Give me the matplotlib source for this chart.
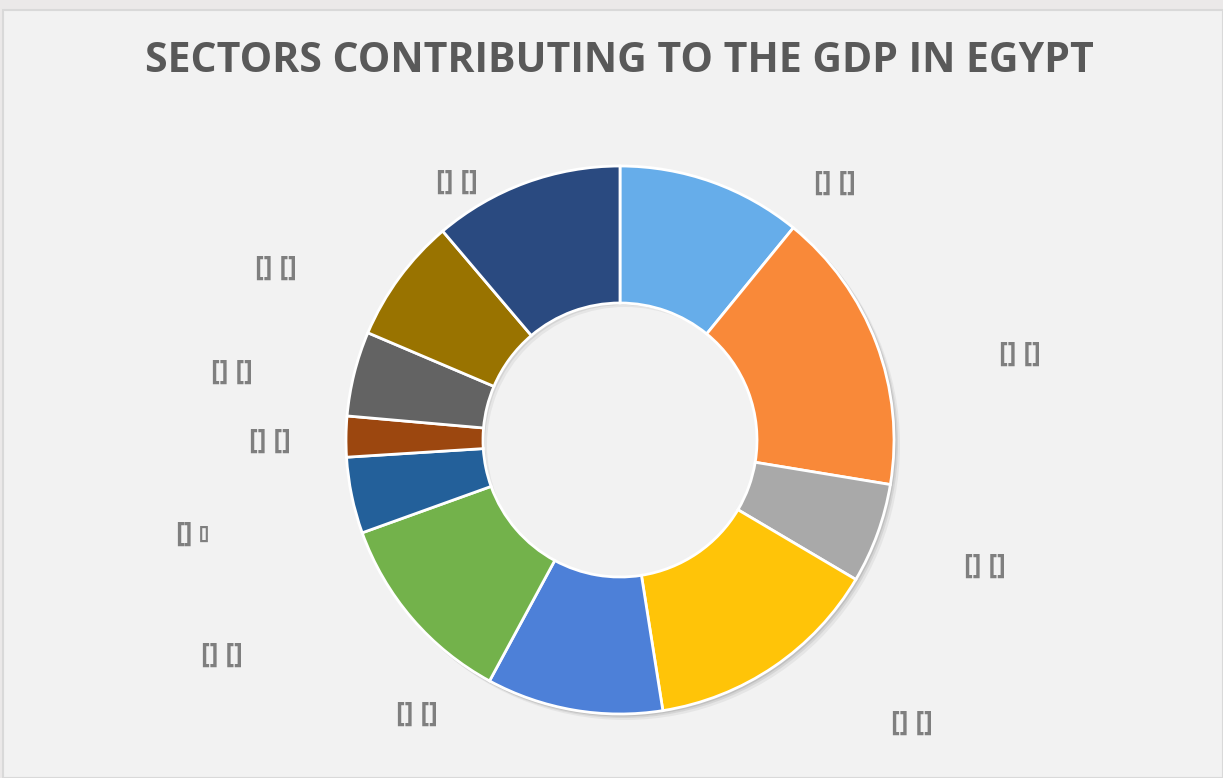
import matplotlib.pyplot as plt
from matplotlib.patches import Rectangle, Wedge
import numpy as np

sector_shares = [10.9, 16.7, 5.9, 14.0, 10.4, 11.6, 4.5, 2.4, 5.0, 7.4, 11.2]
sector_colors = ['#66adea', '#f98939', '#a9a9a9', '#ffc408', '#4d80d8', '#73b24b',
                 '#23609a', '#9c470f', '#636363', '#997300', '#2a4a80']
label_text = ['[] []'] * len(sector_shares)

# label placement: angle clockwise from top (deg), distance from centre (px)
label_angle = [39.8, 77.7, 108.9, 134.0, 216.6, 241.7, 257.6, 270.0, 280.0, 296.7, 327.8]
label_dist = [336, 409, 386, 406, 340, 452, 434, 350, 394, 385, 306]

W, H = 1223, 778
fig = plt.figure(figsize=(W / 100, H / 100), dpi=100)
fig.patch.set_facecolor('#ebe9e9')
ax = fig.add_axes([0, 0, 1, 1])
ax.set_facecolor('#ebe9e9')

# chart area
ax.add_patch(Rectangle((3, 0), W - 3, H - 10, facecolor='#f2f2f2',
                       edgecolor='#d9d9d9', linewidth=1.5, zorder=0))

cx, cy = 620, H - 440
R = 274

# soft shadow under the ring
for k, al in [(5, 0.05), (3, 0.07), (1.5, 0.09)]:
    ax.add_patch(Wedge((cx + k, cy - k), R + 1, 0, 360, width=R * 0.5,
                       facecolor='black', edgecolor='none', alpha=al, zorder=0.5))

ax.pie(sector_shares, colors=sector_colors, startangle=90, counterclock=False,
       center=(cx, cy), radius=R,
       wedgeprops=dict(width=R * 0.5, edgecolor='white', linewidth=2))

ax.set_xlim(0, W)
ax.set_ylim(0, H)
ax.set_aspect('auto')
ax.axis('off')

lab = dict(fontweight='bold', color='#7f7f7f', family='Open Sans')
for i, (txt, a, d) in enumerate(zip(label_text, label_angle, label_dist)):
    x = cx + d * np.sin(np.radians(a))
    y = cy + d * np.cos(np.radians(a))
    if i == 6:
        ax.text(x - 3, y, '[]', ha='right', va='center', fontsize=19, **lab)
        ax.text(x + 3, y - 1, '[]', ha='left', va='center', fontsize=12, **lab)
    else:
        ax.text(x, y, txt, ha='center', va='center', fontsize=19, **lab)

fig.text(619 / W, 1 - 62 / H, 'SECTORS CONTRIBUTING TO THE GDP IN EGYPT',
         ha='center', va='center', fontsize=29.5, fontweight='bold',
         color='#595959', family='Open Sans')

fig.savefig('out.png', dpi=100, facecolor=fig.get_facecolor())
